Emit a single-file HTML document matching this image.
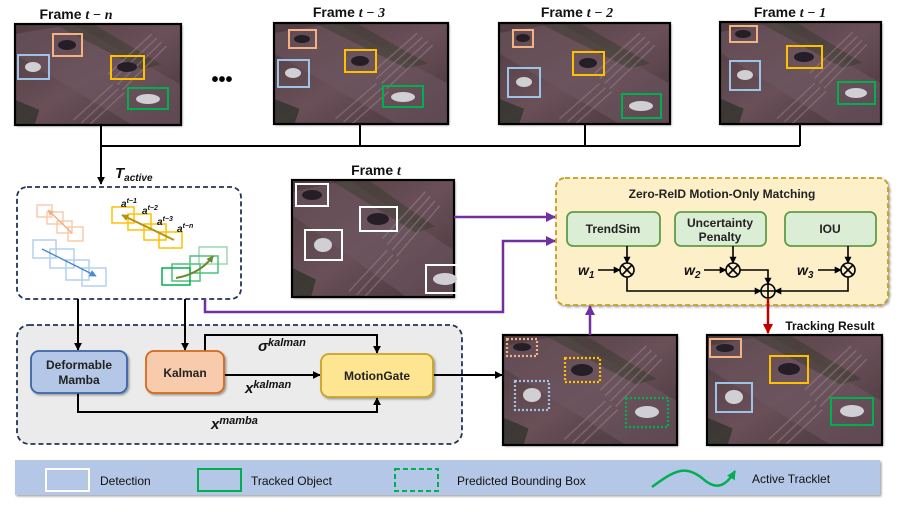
<!DOCTYPE html>
<html><head><meta charset="utf-8"><style>
html,body{margin:0;padding:0;background:#fff}
svg{display:block}
text{font-family:"Liberation Sans",sans-serif}
.t{font-weight:bold;font-size:14px;fill:#111}
.m{font-family:"Liberation Serif",serif;font-weight:bold;font-style:italic}
.b{font-size:12px;font-weight:bold;fill:#222}
</style></head><body>
<svg width="897" height="507" viewBox="0 0 897 507" xmlns="http://www.w3.org/2000/svg">
<defs>
<linearGradient id="bg" x1="0" y1="0" x2="1" y2="1">
<stop offset="0" stop-color="#4e3c40"/><stop offset="0.5" stop-color="#6a5058"/><stop offset="1" stop-color="#44343a"/>
</linearGradient>
<symbol id="scene" viewBox="0 0 170 100" preserveAspectRatio="none">
<rect width="170" height="100" fill="url(#bg)"/>
<polygon points="0,10 60,0 170,60 170,100 120,100 0,30" fill="#6e5660" opacity="0.6"/>
<polygon points="40,0 80,0 150,40 130,45" fill="#3a3a2e" opacity="0.5"/>
<g stroke="#9a8a90" stroke-width="1.5" opacity="0.45">
<line x1="95" y1="50" x2="140" y2="10"/><line x1="100" y1="55" x2="145" y2="14"/><line x1="105" y1="60" x2="150" y2="18"/><line x1="110" y1="65" x2="155" y2="22"/><line x1="60" y1="95" x2="100" y2="60"/><line x1="68" y1="98" x2="106" y2="64"/><line x1="76" y1="100" x2="112" y2="68"/>
</g>
<polygon points="0,75 25,85 20,100 0,100" fill="#2a3028" opacity="0.7"/>
</symbol>
<marker id="ak" viewBox="0 0 10 10" refX="9" refY="5" markerUnits="userSpaceOnUse" markerWidth="8" markerHeight="8" orient="auto"><path d="M0,0L10,5L0,10z" fill="#000"/></marker>
<marker id="ak2" viewBox="0 0 10 10" refX="9" refY="5" markerUnits="userSpaceOnUse" markerWidth="7" markerHeight="7" orient="auto"><path d="M0,0L10,5L0,10z" fill="#000"/></marker>
<marker id="ap" viewBox="0 0 10 10" refX="9" refY="5" markerUnits="userSpaceOnUse" markerWidth="10" markerHeight="10" orient="auto"><path d="M0,0L10,5L0,10z" fill="#7030a0"/></marker>
<marker id="ar" viewBox="0 0 10 10" refX="9" refY="5" markerUnits="userSpaceOnUse" markerWidth="10" markerHeight="10" orient="auto"><path d="M0,0L10,5L0,10z" fill="#c00000"/></marker>
<marker id="ag" viewBox="0 0 10 10" refX="9" refY="5" markerUnits="userSpaceOnUse" markerWidth="9" markerHeight="9" orient="auto"><path d="M0,0L10,5L0,10z" fill="#00b050"/></marker>
<marker id="ab" viewBox="0 0 10 10" refX="9" refY="5" markerUnits="userSpaceOnUse" markerWidth="7" markerHeight="7" orient="auto"><path d="M0,0L10,5L0,10z" fill="#4a8ad4"/></marker>
<marker id="ay" viewBox="0 0 10 10" refX="9" refY="5" markerUnits="userSpaceOnUse" markerWidth="7" markerHeight="7" orient="auto"><path d="M0,0L10,5L0,10z" fill="#b89010"/></marker>
<marker id="ao" viewBox="0 0 10 10" refX="9" refY="5" markerUnits="userSpaceOnUse" markerWidth="6" markerHeight="6" orient="auto"><path d="M0,0L10,5L0,10z" fill="#f4b083"/></marker>
<marker id="agg" viewBox="0 0 10 10" refX="9" refY="5" markerUnits="userSpaceOnUse" markerWidth="7" markerHeight="7" orient="auto"><path d="M0,0L10,5L0,10z" fill="#6a8a30"/></marker>
<filter id="sh"><feDropShadow dx="1.5" dy="1.5" stdDeviation="1" flood-color="#000" flood-opacity="0.35"/></filter>
</defs>

<!-- Top frames -->
<g stroke="#000" stroke-width="2">
<line x1="101" y1="125" x2="101" y2="184" marker-end="url(#ak)"/>
<line x1="101" y1="146" x2="800" y2="146"/>
<line x1="360" y1="124" x2="360" y2="146"/>
<line x1="585" y1="124" x2="585" y2="146"/>
<line x1="800" y1="124" x2="800" y2="146"/>
</g>
<text class="t" x="76" y="19" text-anchor="middle">Frame <tspan class="m">t − n</tspan></text>
<text class="t" x="349" y="17" text-anchor="middle">Frame <tspan class="m">t − 3</tspan></text>
<text class="t" x="577" y="17" text-anchor="middle">Frame <tspan class="m">t − 2</tspan></text>
<text class="t" x="790" y="17" text-anchor="middle">Frame <tspan class="m">t − 1</tspan></text>
<text x="222" y="86" font-size="20" font-weight="bold" text-anchor="middle" fill="#000">•••</text>

<g filter="url(#sh)">
<use href="#scene" x="15" y="24" width="166" height="101"/>
<use href="#scene" x="274" y="23" width="174" height="101"/>
<use href="#scene" x="499" y="23" width="171" height="101"/>
<use href="#scene" x="720" y="22" width="161" height="102"/>
<use href="#scene" x="292" y="180" width="162" height="117"/>
<use href="#scene" x="503" y="335" width="174" height="110"/>
<use href="#scene" x="707" y="335" width="175" height="110"/>
</g>
<g fill="none" stroke="#000" stroke-width="2.2">
<rect x="15" y="24" width="166" height="101"/><rect x="274" y="23" width="174" height="101"/>
<rect x="499" y="23" width="171" height="101"/><rect x="720" y="22" width="161" height="102"/>
<rect x="292" y="180" width="162" height="117"/><rect x="503" y="335" width="174" height="110"/>
<rect x="707" y="335" width="175" height="110"/>
</g>
<!-- cars -->
<g fill="#cfcfd4">
<ellipse cx="33" cy="67" rx="8" ry="5"/><ellipse cx="148" cy="99" rx="12" ry="5"/>
<ellipse cx="293" cy="73" rx="8" ry="5"/><ellipse cx="403" cy="97" rx="12" ry="5"/>
<ellipse cx="524" cy="82" rx="8" ry="5"/><ellipse cx="641" cy="106" rx="12" ry="5"/>
<ellipse cx="745" cy="75" rx="8" ry="5"/><ellipse cx="856" cy="93" rx="11" ry="5"/>
<ellipse cx="323" cy="245" rx="9" ry="7"/><ellipse cx="445" cy="279" rx="12" ry="6"/>
<ellipse cx="532" cy="395" rx="9" ry="7"/><ellipse cx="647" cy="412" rx="12" ry="6"/>
<ellipse cx="734" cy="397" rx="9" ry="7"/><ellipse cx="852" cy="411" rx="12" ry="6"/>
</g>
<g fill="#261e26">
<ellipse cx="67" cy="45" rx="9" ry="5"/><ellipse cx="127" cy="67" rx="10" ry="5"/>
<ellipse cx="302" cy="39" rx="8" ry="4"/><ellipse cx="360" cy="61" rx="9" ry="5"/>
<ellipse cx="523" cy="38" rx="7" ry="4"/><ellipse cx="588" cy="63" rx="9" ry="5"/>
<ellipse cx="743" cy="34" rx="8" ry="4"/><ellipse cx="804" cy="57" rx="10" ry="5"/>
<ellipse cx="312" cy="195" rx="10" ry="5"/><ellipse cx="378" cy="219" rx="11" ry="6"/>
<ellipse cx="522" cy="347" rx="9" ry="4"/><ellipse cx="582" cy="370" rx="11" ry="6"/>
<ellipse cx="725" cy="348" rx="9" ry="4"/><ellipse cx="789" cy="369" rx="11" ry="6"/>
</g>
<!-- bboxes -->
<g fill="none" stroke-width="2">
<rect x="18" y="55" width="31" height="24" stroke="#9dc3e6"/><rect x="53" y="34" width="29" height="22" stroke="#f4b183"/>
<rect x="111" y="56" width="33" height="23" stroke="#ffc000"/><rect x="128" y="88" width="40" height="21" stroke="#00b050"/>
<rect x="278" y="60" width="31" height="27" stroke="#9dc3e6"/><rect x="289" y="30" width="27" height="18" stroke="#f4b183"/>
<rect x="345" y="50" width="31" height="22" stroke="#ffc000"/><rect x="383" y="86" width="40" height="21" stroke="#00b050"/>
<rect x="508" y="68" width="32" height="29" stroke="#9dc3e6"/><rect x="513" y="30" width="20" height="17" stroke="#f4b183"/>
<rect x="573" y="52" width="31" height="23" stroke="#ffc000"/><rect x="622" y="94" width="39" height="24" stroke="#00b050"/>
<rect x="730" y="61" width="30" height="29" stroke="#9dc3e6"/><rect x="730" y="26" width="27" height="16" stroke="#f4b183"/>
<rect x="787" y="46" width="35" height="22" stroke="#ffc000"/><rect x="838" y="82" width="37" height="22" stroke="#00b050"/>
<g stroke="#fff"><rect x="296" y="184" width="32" height="22"/><rect x="360" y="207" width="37" height="24"/><rect x="305" y="230" width="37" height="30"/><rect x="426" y="265" width="36" height="28"/></g>
<g stroke-dasharray="2,2" stroke-width="2.2"><rect x="507" y="339" width="30" height="17" stroke="#f4b183"/><rect x="565" y="358" width="35" height="24" stroke="#ffc000"/><rect x="515" y="381" width="34" height="29" stroke="#9dc3e6"/><rect x="626" y="398" width="42" height="29" stroke="#00b050"/></g>
<rect x="710" y="339" width="31" height="18" stroke="#f4b183"/><rect x="770" y="356" width="38" height="27" stroke="#ffc000"/>
<rect x="716" y="383" width="36" height="29" stroke="#9dc3e6"/><rect x="831" y="398" width="42" height="27" stroke="#00b050"/>
</g>

<text class="t" x="376" y="175" text-anchor="middle">Frame <tspan class="m">t</tspan></text>
<text x="830" y="330" font-size="12" font-weight="bold" text-anchor="middle" fill="#111">Tracking Result</text>

<!-- T_active -->
<text x="115" y="178" font-family="Liberation Serif,serif" font-weight="bold" font-style="italic" font-size="15" fill="#111">T<tspan font-size="10" dy="3">active</tspan></text>
<rect x="17" y="187" width="224" height="112" rx="10" fill="#fff" stroke="#1f3557" stroke-width="1.8" stroke-dasharray="5,3"/>
<g fill="none" stroke-width="1.5">
<g stroke="#f8cbad"><rect x="37" y="205" width="15" height="12"/><rect x="47" y="212" width="16" height="12"/><rect x="57" y="221" width="15" height="12"/><rect x="68" y="227" width="15" height="14"/></g>
<line x1="72" y1="233" x2="48" y2="210" stroke="#f4b183" marker-end="url(#ao)"/>
<g stroke="#b4cff0"><rect x="33" y="240" width="23" height="18"/><rect x="50" y="249" width="24" height="19"/><rect x="66" y="260" width="23" height="20"/><rect x="82" y="268" width="24" height="18"/></g>
<line x1="42" y1="249" x2="96" y2="276" stroke="#4a8ad4" marker-end="url(#ab)"/>
<g stroke="#ffc000"><rect x="112" y="207" width="22" height="16"/><rect x="128" y="214" width="23" height="16"/><rect x="144" y="224" width="22" height="16"/><rect x="159" y="232" width="23" height="16"/></g>
<line x1="174" y1="240" x2="122" y2="215" stroke="#b89010" stroke-width="2" marker-end="url(#ay)"/>
<g stroke="#9ad9b0"><rect x="199" y="247" width="28" height="17"/></g>
<g stroke="#4cc27a"><rect x="190" y="256" width="28" height="17"/><rect x="172" y="264" width="28" height="17"/></g>
<g stroke="#00b050"><rect x="162" y="268" width="28" height="17"/></g>
<path d="M176,278 Q200,274 213,256" stroke="#6a8a30" stroke-width="2" marker-end="url(#agg)"/>
</g>
<g font-family="Liberation Serif,serif" font-weight="bold" font-style="italic" font-size="10" fill="#111">
<text x="121" y="207">a<tspan font-size="7" dy="-4">t−1</tspan></text>
<text x="142" y="214">a<tspan font-size="7" dy="-4">t−2</tspan></text>
<text x="157" y="225">a<tspan font-size="7" dy="-4">t−3</tspan></text>
<text x="177" y="232">a<tspan font-size="7" dy="-4">t−n</tspan></text>
</g>

<!-- Purple connectors -->
<g stroke="#7030a0" stroke-width="2.5" fill="none">
<line x1="454" y1="217" x2="555" y2="217" marker-end="url(#ap)"/>
<polyline points="205,299 205,312 503,312 503,241 555,241" marker-end="url(#ap)"/>
<line x1="590" y1="335" x2="590" y2="306" marker-end="url(#ap)"/>
</g>

<!-- Matching box -->
<rect x="556" y="178" width="332" height="127" rx="9" fill="#fdf0c8" stroke="#c59d1c" stroke-width="1.8" stroke-dasharray="5,3" filter="url(#sh)"/>
<text x="722" y="198" font-size="12" font-weight="bold" text-anchor="middle" fill="#222">Zero-ReID Motion-Only Matching</text>
<g fill="#dcedd6" stroke="#5e9c48" stroke-width="1.8">
<rect x="567" y="212" width="93" height="34" rx="6"/><rect x="675" y="212" width="91" height="34" rx="6"/><rect x="785" y="212" width="91" height="34" rx="6"/>
</g>
<text class="b" x="613" y="233" text-anchor="middle">TrendSim</text>
<text class="b" x="720" y="227" text-anchor="middle">Uncertainty</text>
<text class="b" x="720" y="241" text-anchor="middle">Penalty</text>
<text class="b" x="830" y="233" text-anchor="middle">IOU</text>
<g stroke="#000" stroke-width="1.6" fill="none">
<line x1="627" y1="246" x2="627" y2="263" marker-end="url(#ak2)"/>
<line x1="733" y1="246" x2="733" y2="263" marker-end="url(#ak2)"/>
<line x1="848" y1="246" x2="848" y2="263" marker-end="url(#ak2)"/>
<line x1="598" y1="270" x2="620" y2="270" marker-end="url(#ak2)"/>
<line x1="704" y1="270" x2="726" y2="270" marker-end="url(#ak2)"/>
<line x1="818" y1="270" x2="841" y2="270" marker-end="url(#ak2)"/>
<polyline points="627,277 627,291 761,291" marker-end="url(#ak2)"/>
<polyline points="740,270 768,270 768,284" marker-end="url(#ak2)"/>
<polyline points="848,277 848,291 775,291" marker-end="url(#ak2)"/>
<circle cx="627" cy="270" r="7" fill="#fdf0c8"/><path d="M622,265L632,275M632,265L622,275"/>
<circle cx="733" cy="270" r="7" fill="#fdf0c8"/><path d="M728,265L738,275M738,265L728,275"/>
<circle cx="848" cy="270" r="7" fill="#fdf0c8"/><path d="M843,265L853,275M853,265L843,275"/>
<circle cx="768" cy="291" r="7" fill="#fdf0c8"/><path d="M761,291H775M768,284V298"/>
</g>
<g font-family="Liberation Serif,serif" font-weight="bold" font-style="italic" font-size="14" fill="#111">
<text x="578" y="275">w<tspan font-size="10" dy="3">1</tspan></text>
<text x="684" y="275">w<tspan font-size="10" dy="3">2</tspan></text>
<text x="797" y="275">w<tspan font-size="10" dy="3">3</tspan></text>
</g>
<line x1="768" y1="298" x2="768" y2="333" stroke="#c00000" stroke-width="2.5" marker-end="url(#ar)"/>

<!-- Bottom module -->
<rect x="17" y="325" width="445" height="119" rx="12" fill="#ebebeb" stroke="#1f3557" stroke-width="1.8" stroke-dasharray="5,3"/>
<g stroke="#000" stroke-width="2" fill="none">
<line x1="78" y1="299" x2="78" y2="350" marker-end="url(#ak)"/>
<line x1="185" y1="299" x2="185" y2="350" marker-end="url(#ak)"/>
<polyline points="205,351 205,335 377,335 377,353" marker-end="url(#ak)"/>
<line x1="224" y1="375" x2="320" y2="375" marker-end="url(#ak)"/>
<polyline points="78,393 78,412 377,412 377,398" marker-end="url(#ak)"/>
<line x1="433" y1="375" x2="502" y2="375" marker-end="url(#ak)"/>
</g>
<g filter="url(#sh)" stroke-width="1.8">
<rect x="31" y="351" width="96" height="42" rx="8" fill="#b4c7e7" stroke="#3c64a8"/>
<rect x="146" y="351" width="78" height="42" rx="8" fill="#f7cbac" stroke="#d2691e"/>
<rect x="321" y="354" width="112" height="43" rx="8" fill="#fde591" stroke="#c9a227"/>
</g>
<text class="b" x="79" y="369" text-anchor="middle">Deformable</text>
<text class="b" x="79" y="384" text-anchor="middle">Mamba</text>
<text class="b" x="185" y="377" text-anchor="middle">Kalman</text>
<text class="b" x="377" y="380" text-anchor="middle">MotionGate</text>
<g font-family="Liberation Serif,serif" font-weight="bold" font-style="italic" font-size="15" fill="#111">
<text x="258" y="351">σ<tspan font-size="11" dy="-5">kalman</tspan></text>
<text x="245" y="393">x<tspan font-size="11" dy="-5">kalman</tspan></text>
<text x="211" y="429">x<tspan font-size="11" dy="-5">mamba</tspan></text>
</g>

<!-- Legend -->
<rect x="15" y="460" width="865" height="35" fill="#b4c7e7" filter="url(#sh)"/>
<rect x="46" y="469" width="43" height="22" fill="none" stroke="#fff" stroke-width="2"/>
<text x="100" y="485" font-size="12" fill="#111">Detection</text>
<rect x="198" y="469" width="43" height="22" fill="none" stroke="#00b050" stroke-width="2"/>
<text x="251" y="485" font-size="12" fill="#111">Tracked Object</text>
<rect x="395" y="469" width="43" height="22" fill="none" stroke="#00b050" stroke-width="2" stroke-dasharray="5,3"/>
<text x="457" y="485" font-size="12" fill="#111">Predicted  Bounding Box</text>
<path d="M652,487 C675,470 685,465 702,478 C715,490 725,488 735,471" fill="none" stroke="#00b050" stroke-width="2.5" marker-end="url(#ag)"/>
<text x="752" y="483" font-size="12" fill="#111">Active Tracklet</text>
</svg>
</body></html>
